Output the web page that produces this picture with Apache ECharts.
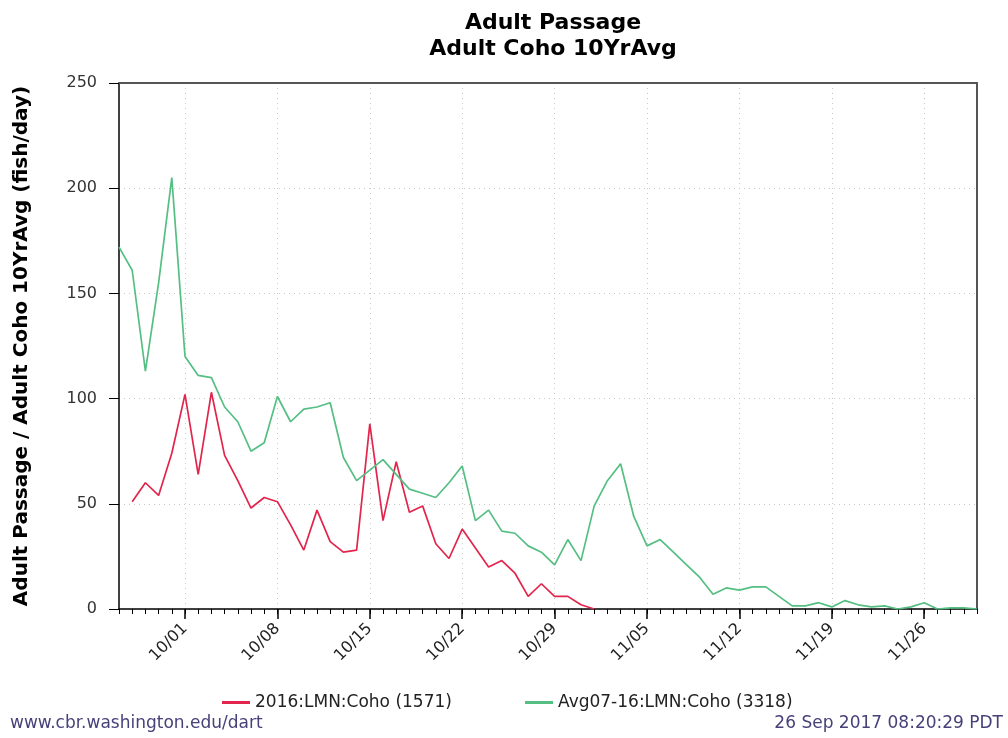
<!DOCTYPE html>
<html>
<head>
<meta charset="utf-8">
<script src="https://cdn.jsdelivr.net/npm/echarts@6/dist/echarts.min.js"></script>
<style>
  html, body { margin: 0; padding: 0; background: #fff; }
  #chart { width: 1008px; height: 738px; }
</style>
</head>
<body>
<div id="chart"></div>
<script>
// days on the x axis, 09/26 .. 11/30
const days = [
  '09/26', '09/27', '09/28', '09/29', '09/30',
  '10/01', '10/02', '10/03', '10/04', '10/05', '10/06', '10/07',
  '10/08', '10/09', '10/10', '10/11', '10/12', '10/13', '10/14',
  '10/15', '10/16', '10/17', '10/18', '10/19', '10/20', '10/21',
  '10/22', '10/23', '10/24', '10/25', '10/26', '10/27', '10/28',
  '10/29', '10/30', '10/31', '11/01', '11/02', '11/03', '11/04',
  '11/05', '11/06', '11/07', '11/08', '11/09', '11/10', '11/11',
  '11/12', '11/13', '11/14', '11/15', '11/16', '11/17', '11/18',
  '11/19', '11/20', '11/21', '11/22', '11/23', '11/24', '11/25',
  '11/26', '11/27', '11/28', '11/29', '11/30',
]

// labelled days (major ticks)
const labelDays = ['10/01', '10/08', '10/15', '10/22', '10/29', '11/05', '11/12', '11/19', '11/26']

const yTicks = [0, 50, 100, 150, 200, 250]

// 2016 counts (fish/day)
const coho2016 = [
  null, 51, 60, 54, 74,
  102, 64, 103, 73, 61, 48, 53,
  51, 40, 28, 47, 32, 27, 28,
  88, 42, 70, 46, 49, 31, 24,
  38, 29, 20, 23, 17, 6, 12,
  6, 6, 2, 0, null, null, null,
  null, null, null, null, null, null, null,
  null, null, null, null, null, null, null,
  null, null, null, null, null, null, null,
  null, null, null, null, null,
]

// 10 year average 2007-2016
const cohoAvg = [
  172, 161, 113, 155, 205,
  120, 111, 110, 96, 89, 75, 79,
  101, 89, 95, 96, 98, 72, 61,
  66, 71, 64, 57, 55, 53, 60,
  68, 42, 47, 37, 36, 30, 27,
  21, 33, 23, 49, 61, 69, 44,
  30, 33, 27, 21, 15, 7, 10,
  9, 10.5, 10.5, 6, 1.5, 1.5, 3,
  1, 4, 2, 1, 1.5, 0, 1,
  3, 0, 0.5, 0.5, 0,
]

const seriesNames = ['2016:LMN:Coho (1571)', 'Avg07-16:LMN:Coho (3318)']
const colors = ['#e2254c', '#55bf83']

const isMajor = (idx, val) => labelDays.includes(val !== undefined ? val : days[idx])

const chart = echarts.init(document.getElementById('chart'), null, { renderer: 'canvas' })

const font = 'DejaVu Sans'

// legend box, one per series so each sits where the original puts it
function legendAt(name, left) {
  return {
    data: [name],
    left,
    top: 689,
    icon: 'rect',
    itemWidth: 28,
    itemHeight: 3,
    itemGap: 8,
    textStyle: { fontFamily: font, fontSize: 17, color: '#222' },
  }
}

// plain line used for the top / right side of the plot frame
const frameAxis = {
  axisLine: { show: true, lineStyle: { color: '#555', width: 2 } },
  axisTick: { show: false },
  axisLabel: { show: false },
  splitLine: { show: false },
}

chart.setOption({
  animation: false,
  backgroundColor: '#fff',
  title: {
    text: 'Adult Passage\nAdult Coho 10YrAvg',
    left: 548,
    top: 5,
    textAlign: 'center',
    textStyle: {
      fontFamily: font,
      fontSize: 22,
      fontWeight: 'bold',
      color: '#000',
      lineHeight: 26,
    },
  },
  grid: {
    left: 119,
    right: 31,
    top: 83,
    bottom: 129,
    outerBoundsMode: 'none',
  },
  legend: [
    legendAt(seriesNames[0], 217),
    legendAt(seriesNames[1], 520),
  ],
  xAxis: [
    {
      type: 'category',
      data: days,
      boundaryGap: false,
      position: 'bottom',
      axisLine: { lineStyle: { color: '#000', width: 1.5 } },
      axisTick: { interval: 0, length: 5, lineStyle: { color: '#000' } },
      axisLabel: {
        interval: (idx, val) => isMajor(idx, val),
        rotate: 45,
        margin: 17,
        fontFamily: font,
        fontSize: 16,
        color: '#222',
      },
      splitLine: {
        show: true,
        interval: (idx, val) => isMajor(idx, val),
        lineStyle: { color: '#c8c8c8', type: [1, 4] },
      },
    },
    {
      type: 'category',
      data: days,
      boundaryGap: false,
      position: 'bottom',
      offset: 0,
      axisLine: { show: false },
      axisTick: { interval: (idx, val) => isMajor(idx, val), length: 10, lineStyle: { color: '#000', width: 1.5 } },
      axisLabel: { show: false },
      splitLine: { show: false },
    },
    { type: 'category', data: days, boundaryGap: false, position: 'top', ...frameAxis },
  ],
  yAxis: [
    {
      type: 'value',
      min: yTicks[0],
      max: yTicks[yTicks.length - 1],
      interval: 50,
      name: 'Adult Passage / Adult Coho 10YrAvg (fish/day)',
      nameLocation: 'middle',
      nameGap: 87,
      nameTextStyle: { fontFamily: font, fontSize: 20, fontWeight: 'bold', color: '#000' },
      axisLine: { show: true, lineStyle: { color: '#000', width: 1.5 } },
      axisTick: { show: true, length: 10, lineStyle: { color: '#000' } },
      axisLabel: { margin: 22, fontFamily: font, fontSize: 16, color: '#333' },
      splitLine: { lineStyle: { color: '#c8c8c8', type: [1, 4] } },
    },
    { type: 'value', min: 0, max: 250, position: 'right', ...frameAxis },
  ],
  series: [
    {
      name: seriesNames[0],
      type: 'line',
      data: coho2016,
      symbol: 'none',
      connectNulls: false,
      color: colors[0],
      lineStyle: { width: 1.7, color: colors[0] },
    },
    {
      name: seriesNames[1],
      type: 'line',
      data: cohoAvg,
      symbol: 'none',
      color: colors[1],
      lineStyle: { width: 1.7, color: colors[1] },
    },
  ],
  graphic: [
    {
      type: 'text',
      left: 10,
      top: 715,
      style: { text: 'www.cbr.washington.edu/dart', font: '17px "DejaVu Sans"', fill: '#47417a' },
    },
    {
      type: 'text',
      right: 5,
      top: 715,
      style: { text: '26 Sep 2017 08:20:29 PDT', font: '17px "DejaVu Sans"', fill: '#47417a' },
    },
  ],
})
</script>
</body>
</html>
